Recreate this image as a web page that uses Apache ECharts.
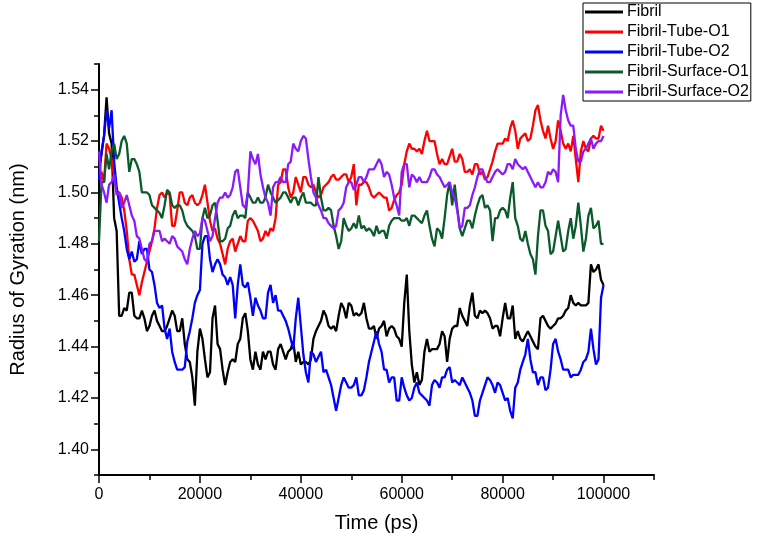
<!DOCTYPE html>
<html>
<head>
<meta charset="utf-8">
<script src="https://cdn.jsdelivr.net/npm/echarts@6/dist/echarts.min.js"></script>
<style>
html,body{margin:0;padding:0;background:#fff;}
#chart{width:757px;height:540px;}
</style>
</head>
<body>
<div id="chart"></div>
<script>
// ---- data: sample times (ps), one sample every 500 ps ----
const time = Array.from({length:201}, (_, i) => i * 500);

const fibril = [
1.510,1.515,1.522,1.537,1.523,1.519,1.490,1.485,1.452,1.452,
1.455,1.454,1.461,1.461,1.452,1.451,1.451,1.454,1.451,1.446,
1.448,1.452,1.454,1.450,1.448,1.446,1.446,1.448,1.451,1.454,
1.452,1.446,1.446,1.451,1.441,1.435,1.434,1.428,1.417,1.438,
1.447,1.443,1.435,1.428,1.430,1.451,1.456,1.441,1.439,1.431,
1.425,1.430,1.434,1.435,1.434,1.441,1.443,1.451,1.453,1.446,
1.435,1.431,1.438,1.433,1.431,1.438,1.435,1.438,1.438,1.433,
1.431,1.439,1.441,1.438,1.435,1.438,1.439,1.442,1.434,1.438,
1.433,1.434,1.434,1.433,1.435,1.443,1.446,1.448,1.450,1.454,
1.452,1.448,1.447,1.448,1.446,1.452,1.457,1.455,1.451,1.457,
1.456,1.452,1.453,1.452,1.453,1.457,1.451,1.447,1.447,1.448,
1.443,1.447,1.448,1.450,1.444,1.447,1.448,1.447,1.444,1.443,
1.440,1.457,1.468,1.446,1.433,1.426,1.430,1.425,1.427,1.438,
1.443,1.438,1.439,1.439,1.439,1.441,1.446,1.444,1.434,1.443,
1.447,1.448,1.448,1.455,1.452,1.450,1.448,1.456,1.461,1.452,
1.451,1.454,1.453,1.454,1.453,1.451,1.447,1.448,1.448,1.444,
1.451,1.457,1.451,1.451,1.456,1.443,1.446,1.443,1.442,1.444,
1.446,1.444,1.442,1.440,1.439,1.451,1.452,1.450,1.448,1.447,
1.448,1.449,1.451,1.451,1.452,1.454,1.455,1.460,1.457,1.456,
1.457,1.456,1.456,1.456,1.457,1.472,1.469,1.470,1.472,1.466,
1.464];

const tubeO1 = [
1.505,1.508,1.504,1.519,1.517,1.513,1.506,1.500,1.500,1.498,
1.493,1.485,1.474,1.468,1.468,1.464,1.460,1.465,1.469,1.473,
1.477,1.481,1.486,1.494,1.499,1.500,1.498,1.500,1.499,1.487,
1.487,1.493,1.500,1.500,1.496,1.495,1.498,1.499,1.496,1.495,
1.496,1.499,1.503,1.496,1.489,1.485,1.486,1.482,1.480,1.476,
1.472,1.478,1.481,1.482,1.477,1.480,1.483,1.481,1.481,1.489,
1.490,1.489,1.487,1.485,1.481,1.482,1.485,1.483,1.486,1.485,
1.490,1.503,1.504,1.509,1.509,1.502,1.498,1.500,1.506,1.503,
1.500,1.506,1.506,1.503,1.502,1.503,1.500,1.498,1.499,1.502,
1.503,1.504,1.506,1.507,1.505,1.505,1.506,1.507,1.507,1.504,
1.506,1.511,1.495,1.503,1.503,1.504,1.504,1.502,1.499,1.498,
1.499,1.500,1.499,1.498,1.498,1.493,1.494,1.497,1.499,1.500,
1.503,1.511,1.516,1.519,1.517,1.517,1.516,1.517,1.515,1.520,
1.524,1.520,1.520,1.520,1.515,1.511,1.513,1.511,1.511,1.514,
1.517,1.512,1.512,1.515,1.513,1.508,1.508,1.509,1.507,1.511,
1.511,1.507,1.508,1.505,1.506,1.509,1.512,1.516,1.519,1.519,
1.519,1.521,1.520,1.525,1.528,1.524,1.517,1.521,1.522,1.523,
1.520,1.521,1.526,1.532,1.534,1.528,1.524,1.521,1.526,1.521,
1.517,1.520,1.528,1.524,1.519,1.517,1.519,1.516,1.522,1.513,
1.504,1.516,1.520,1.517,1.516,1.521,1.522,1.521,1.521,1.526,
1.524];

const tubeO2 = [
1.505,1.516,1.522,1.532,1.525,1.532,1.512,1.502,1.496,1.490,
1.485,1.478,1.474,1.477,1.473,1.474,1.481,1.476,1.478,1.478,
1.470,1.469,1.464,1.457,1.455,1.456,1.447,1.443,1.447,1.438,
1.434,1.431,1.431,1.431,1.432,1.442,1.446,1.451,1.457,1.460,
1.462,1.480,1.483,1.483,1.474,1.469,1.472,1.474,1.472,1.468,
1.467,1.464,1.467,1.464,1.451,1.464,1.472,1.464,1.463,1.465,
1.459,1.452,1.459,1.456,1.454,1.451,1.451,1.461,1.464,1.457,
1.460,1.454,1.454,1.452,1.450,1.447,1.443,1.439,1.451,1.459,
1.448,1.437,1.430,1.426,1.438,1.437,1.434,1.436,1.438,1.430,
1.431,1.428,1.425,1.420,1.415,1.420,1.425,1.428,1.426,1.424,
1.424,1.425,1.428,1.421,1.421,1.423,1.428,1.434,1.438,1.442,
1.446,1.441,1.438,1.431,1.431,1.426,1.428,1.428,1.419,1.419,
1.428,1.424,1.421,1.419,1.420,1.424,1.426,1.422,1.421,1.420,
1.419,1.417,1.425,1.427,1.426,1.424,1.428,1.428,1.431,1.432,
1.426,1.427,1.426,1.425,1.428,1.426,1.424,1.422,1.419,1.413,
1.413,1.419,1.422,1.425,1.428,1.427,1.425,1.422,1.426,1.425,
1.422,1.419,1.420,1.415,1.412,1.424,1.426,1.431,1.434,1.437,
1.443,1.435,1.430,1.430,1.425,1.428,1.428,1.423,1.424,1.431,
1.441,1.443,1.438,1.435,1.431,1.431,1.431,1.428,1.429,1.429,
1.429,1.431,1.434,1.435,1.438,1.447,1.439,1.433,1.435,1.459,
1.464];

const surfaceO1 = [
1.481,1.504,1.504,1.515,1.509,1.516,1.519,1.513,1.515,1.520,
1.522,1.519,1.508,1.513,1.513,1.511,1.508,1.500,1.500,1.500,
1.499,1.495,1.494,1.493,1.492,1.490,1.495,1.501,1.500,1.495,
1.494,1.495,1.495,1.493,1.489,1.487,1.486,1.485,1.483,1.478,
1.478,1.490,1.494,1.490,1.491,1.495,1.496,1.489,1.481,1.481,
1.482,1.486,1.487,1.491,1.493,1.490,1.491,1.491,1.490,1.500,
1.498,1.496,1.496,1.498,1.496,1.496,1.498,1.503,1.500,1.498,
1.496,1.497,1.498,1.500,1.500,1.498,1.496,1.498,1.498,1.495,
1.498,1.500,1.496,1.496,1.496,1.495,1.495,1.506,1.498,1.493,
1.493,1.494,1.493,1.487,1.483,1.478,1.481,1.490,1.487,1.485,
1.486,1.488,1.486,1.491,1.486,1.487,1.485,1.486,1.485,1.483,
1.487,1.484,1.485,1.485,1.482,1.487,1.489,1.490,1.490,1.490,
1.489,1.489,1.490,1.487,1.491,1.491,1.490,1.489,1.488,1.491,
1.493,1.487,1.482,1.479,1.486,1.485,1.482,1.490,1.499,1.504,
1.495,1.503,1.494,1.486,1.483,1.486,1.489,1.489,1.486,1.491,
1.495,1.498,1.499,1.494,1.495,1.493,1.481,1.490,1.490,1.493,
1.494,1.493,1.490,1.498,1.504,1.490,1.487,1.482,1.481,1.485,
1.480,1.476,1.474,1.468,1.483,1.493,1.493,1.487,1.485,1.476,
1.477,1.483,1.489,1.483,1.477,1.478,1.485,1.490,1.482,1.487,
1.496,1.487,1.477,1.482,1.491,1.494,1.486,1.487,1.489,1.480,
1.480];

const surfaceO2 = [
1.516,1.503,1.500,1.496,1.503,1.504,1.507,1.499,1.500,1.494,
1.496,1.499,1.495,1.491,1.489,1.483,1.482,1.478,1.474,1.473,
1.480,1.481,1.485,1.485,1.485,1.481,1.482,1.481,1.480,1.483,
1.482,1.479,1.478,1.477,1.474,1.472,1.478,1.482,1.485,1.483,
1.484,1.490,1.489,1.485,1.481,1.483,1.490,1.496,1.498,1.498,
1.500,1.498,1.499,1.502,1.508,1.509,1.502,1.495,1.494,1.500,
1.516,1.513,1.511,1.515,1.507,1.502,1.498,1.496,1.491,1.502,
1.504,1.504,1.506,1.504,1.504,1.511,1.512,1.519,1.517,1.516,
1.520,1.522,1.521,1.513,1.506,1.500,1.498,1.495,1.493,1.490,
1.490,1.488,1.487,1.486,1.487,1.493,1.494,1.496,1.502,1.504,
1.504,1.501,1.503,1.506,1.506,1.504,1.506,1.509,1.509,1.509,
1.511,1.513,1.511,1.506,1.508,1.507,1.503,1.498,1.495,1.491,
1.508,1.511,1.511,1.502,1.507,1.506,1.504,1.506,1.504,1.504,
1.504,1.506,1.509,1.509,1.507,1.506,1.504,1.502,1.503,1.504,
1.500,1.498,1.493,1.486,1.487,1.494,1.494,1.495,1.499,1.502,
1.506,1.509,1.509,1.506,1.504,1.504,1.506,1.508,1.509,1.508,
1.507,1.508,1.511,1.511,1.509,1.513,1.511,1.510,1.509,1.510,
1.508,1.506,1.504,1.502,1.504,1.502,1.502,1.504,1.508,1.507,
1.509,1.508,1.504,1.530,1.538,1.532,1.528,1.526,1.526,1.517,
1.512,1.512,1.516,1.517,1.519,1.521,1.517,1.519,1.520,1.520,
1.522];

const seriesNames = ['Fibril','Fibril-Tube-O1','Fibril-Tube-O2','Fibril-Surface-O1','Fibril-Surface-O2'];
const xTickLabels = [0,20000,40000,60000,80000,100000];
const yTickLabels = [1.40,1.42,1.44,1.46,1.48,1.50,1.52,1.54];

// ---- styling ----
const colors = ['#000000','#ff0000','#0000ff','#0b5a2c','#8c1aff'];
const FONT = 'Liberation Sans, Arial, sans-serif';
const allData = [fibril, tubeO1, tubeO2, surfaceO1, surfaceO2];

const chart = echarts.init(document.getElementById('chart'), null, {renderer:'canvas'});
const axisLineStyle = {color:'#000', width:2};
const tickStyle = {color:'#000', width:1.5};

const option = {
  animation:false,
  backgroundColor:'#fff',
  grid:{left:93, right:103, top:64, bottom:65, containLabel:false},
  legend:{
    orient:'vertical', left:583, top:3,
    data: seriesNames,
    icon:'rect', itemWidth:38, itemHeight:3, itemGap:4,
    padding:[1,2,1,2],
    borderColor:'#000', borderWidth:1,
    textStyle:{fontFamily:FONT, fontSize:16, color:'#000', padding:[0,0,0,-1]}
  },
  xAxis:[{
    type:'value', min:0, max:110000, interval:10000,
    name:'Time (ps)', nameLocation:'middle', nameGap:38,
    nameTextStyle:{fontFamily:FONT, fontSize:20, color:'#000'},
    axisLine:{show:true, onZero:false, lineStyle:axisLineStyle},
    axisTick:{show:true, inside:false, length:5, lineStyle:tickStyle},
    axisLabel:{customValues:xTickLabels, formatter:v=>String(v), fontFamily:FONT, fontSize:16, color:'#000', margin:12},
    splitLine:{show:false}
  },{
    type:'value', min:0, max:110000, position:'bottom', offset:0,
    axisLine:{show:false},
    axisTick:{show:true, customValues:xTickLabels, inside:false, length:8, lineStyle:tickStyle},
    axisLabel:{show:false}, splitLine:{show:false}
  }],
  yAxis:[{
    type:'value', min:1.39, max:1.55, interval:0.01,
    name:'Radius of Gyration (nm)', nameLocation:'middle', nameGap:71,
    nameTextStyle:{fontFamily:FONT, fontSize:20, color:'#000'},
    axisLine:{show:true, onZero:false, lineStyle:axisLineStyle},
    axisTick:{show:true, inside:false, length:5, lineStyle:tickStyle},
    axisLabel:{customValues:yTickLabels, formatter:v=>v.toFixed(2), fontFamily:FONT, fontSize:16, color:'#000', margin:10},
    splitLine:{show:false}
  },{
    type:'value', min:1.39, max:1.55, position:'left', offset:0,
    axisLine:{show:false},
    axisTick:{show:true, customValues:yTickLabels, inside:false, length:8, lineStyle:tickStyle},
    axisLabel:{show:false}, splitLine:{show:false}
  }],
  series: seriesNames.map((n,i)=>({
    name:n, type:'line', xAxisIndex:0, yAxisIndex:0,
    data: time.map((t,j)=>[t, allData[i][j]]),
    showSymbol:false, symbol:'none', smooth:false,
    lineStyle:{color:colors[i], width:2.3},
    itemStyle:{color:colors[i]},
    z: 2+i
  }))
};
chart.setOption(option);
</script>
</body>
</html>
